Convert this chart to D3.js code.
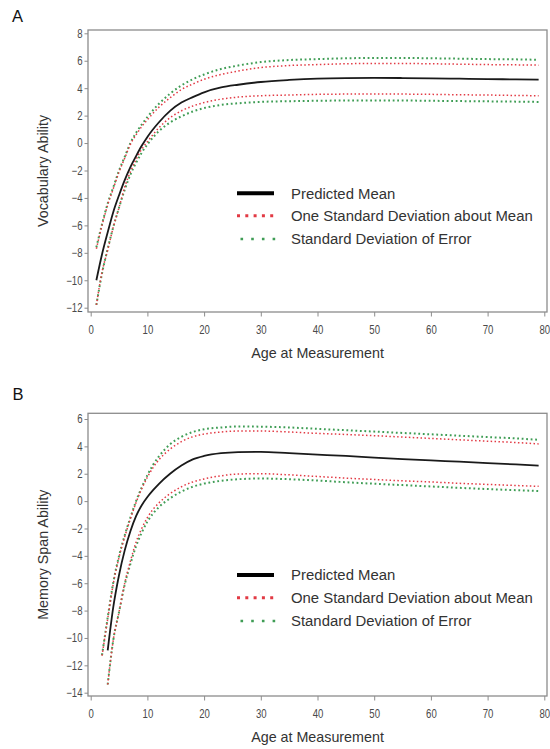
<!DOCTYPE html>
<html>
<head>
<meta charset="utf-8">
<script src="https://cdnjs.cloudflare.com/ajax/libs/d3/7.8.5/d3.min.js"></script>
<style>
  html, body { margin: 0; padding: 0; background: #fff; }
  svg { display: block; }
  text { font-family: "Liberation Sans", Arial, Helvetica, sans-serif; }
</style>
</head>
<body>
<svg id="chart" width="550" height="749"></svg>
<script>
// ---------------- DATA ----------------
const xTicks = [0, 10, 20, 30, 40, 50, 60, 70, 80];
const yTicksA = [8, 6, 4, 2, 0, -2, -4, -6, -8, -10, -12];
const yTicksB = [6, 4, 2, 0, -2, -4, -6, -8, -10, -12, -14];
const legendLabels = ["Predicted Mean", "One Standard Deviation about Mean", "Standard Deviation of Error"];

// Panel A: Vocabulary Ability
const agesA = [1,2,3,4,5,6,7,8,9,10,12,14,16,18,20,23,26,30,35,40,45,50,55,60,65,70,75,79];
const meanA = [-10.0,-8.1,-6.5,-5.0,-3.8,-2.7,-1.75,-0.95,-0.2,0.45,1.5,2.35,2.95,3.35,3.7,4.05,4.25,4.45,4.6,4.7,4.74,4.75,4.74,4.72,4.69,4.66,4.64,4.62];
const sdUpA = [-7.7,-6.0,-4.5,-3.3,-2.1,-1.1,-0.1,0.6,1.2,1.7,2.6,3.3,3.9,4.3,4.65,5.0,5.25,5.5,5.65,5.72,5.78,5.8,5.8,5.78,5.75,5.72,5.7,5.68];
const sdLoA = [-11.8,-9.4,-7.8,-6.1,-4.7,-3.2,-2.1,-1.2,-0.45,0.1,1.1,1.85,2.35,2.7,2.95,3.2,3.35,3.45,3.5,3.55,3.57,3.58,3.57,3.55,3.52,3.5,3.47,3.45];
const errUpA = [-7.6,-5.9,-4.4,-3.2,-2.0,-1.0,0.0,0.75,1.35,1.9,2.85,3.6,4.2,4.65,5.0,5.4,5.65,5.9,6.05,6.12,6.18,6.2,6.2,6.18,6.15,6.12,6.1,6.07];
const errLoA = [-11.8,-9.5,-7.7,-6.1,-4.7,-3.4,-2.3,-1.45,-0.7,-0.1,0.85,1.5,1.95,2.3,2.55,2.78,2.9,3.0,3.05,3.08,3.1,3.1,3.1,3.08,3.06,3.04,3.02,3.0];

// Panel B: Memory Span Ability
const agesB = [3,4,5,6,7,8,9,10,11,12,14,16,18,20,23,26,30,35,40,45,50,55,60,65,70,75,79];
const meanB = [-10.9,-7.7,-5.4,-3.6,-2.2,-1.1,-0.3,0.3,0.8,1.25,2.0,2.6,3.05,3.3,3.5,3.58,3.6,3.5,3.4,3.3,3.18,3.07,2.97,2.88,2.78,2.68,2.6];
const agesBUp = [2,3,4,5,6,7,8,9,10,11,12,14,16,18,20,23,26,30,35,40,45,50,55,60,65,70,75,79];
const sdUpB = [-11.3,-8.6,-6.0,-4.1,-2.6,-1.3,-0.1,0.9,1.75,2.45,3.0,3.8,4.35,4.7,4.9,5.05,5.12,5.12,5.05,4.95,4.87,4.78,4.68,4.58,4.48,4.38,4.28,4.18];
const errUpB = [-11.25,-8.5,-5.9,-4.0,-2.5,-1.2,0.0,1.0,1.9,2.65,3.25,4.15,4.7,5.05,5.25,5.38,5.45,5.44,5.38,5.28,5.18,5.08,4.98,4.88,4.78,4.68,4.58,4.48];
const sdLoB = [-13.4,-10.1,-8.1,-6.0,-4.4,-3.0,-2.0,-1.2,-0.6,-0.15,0.55,1.05,1.4,1.62,1.85,1.98,2.0,1.92,1.8,1.68,1.58,1.48,1.4,1.3,1.22,1.14,1.08];
const errLoB = [-13.4,-10.1,-8.1,-6.1,-4.6,-3.3,-2.3,-1.5,-0.9,-0.45,0.2,0.7,1.05,1.28,1.48,1.6,1.65,1.6,1.5,1.38,1.27,1.17,1.07,0.97,0.88,0.8,0.74];

// ---------------- DRAWING ----------------
const svg = d3.select("#chart");
const RED = "#e23a44";
const GREEN = "#3f9d55";
const FRAME = "#8c8c8c";

function panel(cfg) {
  const g = svg.append("g");
  const x = d3.scaleLinear().domain([0, 80]).range([90.7, 544.3]);
  const y = d3.scaleLinear().domain(cfg.yDomain).range(cfg.yRange);

  // frame
  g.append("rect")
    .attr("x", cfg.frame.left).attr("y", cfg.frame.top)
    .attr("width", cfg.frame.right - cfg.frame.left)
    .attr("height", cfg.frame.bottom - cfg.frame.top)
    .attr("fill", "none").attr("stroke", FRAME).attr("stroke-width", 1.3);

  // y axis
  const ya = g.append("g")
    .attr("transform", `translate(${cfg.frame.left},0)`)
    .call(d3.axisLeft(y).tickValues(cfg.yTicks).tickSize(3.5).tickPadding(2));
  ya.select(".domain").remove();
  ya.selectAll(".tick line").attr("stroke", FRAME).attr("stroke-width", 1);
  ya.selectAll(".tick text")
    .attr("fill", "#4a4a4a").attr("font-size", 12)
    .attr("x", -5.5 / 0.8)
    .attr("transform", "scale(0.8,1)");

  // x axis
  const xa = g.append("g")
    .attr("transform", `translate(0,${cfg.frame.bottom})`)
    .call(d3.axisBottom(x).tickValues(xTicks).tickSize(4.5).tickPadding(9));
  xa.select(".domain").remove();
  xa.selectAll(".tick line").attr("stroke", FRAME).attr("stroke-width", 1);
  xa.selectAll(".tick text")
    .attr("fill", "#4a4a4a").attr("font-size", 12)
    .attr("transform", "scale(0.8,1)");

  // axis titles
  g.append("text")
    .attr("x", (cfg.frame.left + cfg.frame.right) / 2)
    .attr("y", cfg.xTitleY)
    .attr("text-anchor", "middle").attr("font-size", 14.3).attr("fill", "#333")
    .text("Age at Measurement");
  g.append("text")
    .attr("transform", `translate(${cfg.yTitleX},${(cfg.frame.top + cfg.frame.bottom) / 2}) rotate(-90)`)
    .attr("text-anchor", "middle").attr("font-size", 14.3).attr("fill", "#333")
    .text(cfg.yTitle);

  // panel letter
  g.append("text")
    .attr("x", cfg.letterX).attr("y", cfg.letterY)
    .attr("font-size", 16.5).attr("fill", "#111")
    .text(cfg.letter);

  const line = d3.line()
    .x(d => x(d[0])).y(d => y(d[1]))
    .curve(d3.curveMonotoneX);

  const zip = (a, b) => a.map((v, i) => [v, b[i]]);

  // error lines (green)
  cfg.errSeries.forEach(s => {
    g.append("path").attr("d", line(zip(s.ages, s.vals)))
      .attr("fill", "none").attr("stroke", GREEN).attr("stroke-width", 2)
      .attr("stroke-dasharray", "1.8 2.7");
  });
  // SD lines (red)
  cfg.sdSeries.forEach(s => {
    g.append("path").attr("d", line(zip(s.ages, s.vals)))
      .attr("fill", "none").attr("stroke", RED).attr("stroke-width", 1.5)
      .attr("stroke-dasharray", "1.5 2.4");
  });
  // mean
  g.append("path").attr("d", line(zip(cfg.meanAges, cfg.mean)))
    .attr("fill", "none").attr("stroke", "#1a1a1a").attr("stroke-width", 1.8);

  // legend
  const lx0 = 237, lx1 = 274, tx = 291;
  const ly = cfg.legendY;
  g.append("line").attr("x1", lx0).attr("x2", lx1).attr("y1", ly[0]).attr("y2", ly[0])
    .attr("stroke", "#000").attr("stroke-width", 4);
  g.append("line").attr("x1", lx0).attr("x2", lx1 + 2).attr("y1", ly[1]).attr("y2", ly[1])
    .attr("stroke", RED).attr("stroke-width", 3).attr("stroke-dasharray", "3 5.3");
  g.append("line").attr("x1", lx0 + 3.5).attr("x2", lx1 + 2).attr("y1", ly[2]).attr("y2", ly[2])
    .attr("stroke", GREEN).attr("stroke-width", 2.6).attr("stroke-dasharray", "2.6 8.1");
  legendLabels.forEach((t, i) => {
    g.append("text").attr("x", tx).attr("y", ly[i]).attr("dy", "0.36em")
      .attr("font-size", 14.9).attr("fill", "#333").text(t);
  });
}

panel({
  letter: "A", letterX: 12, letterY: 21.5,
  frame: { left: 88, right: 547, top: 30, bottom: 312 },
  yDomain: [-12, 8], yRange: [307.7, 33.3], yTicks: yTicksA,
  xTitleY: 357.5, yTitleX: 47.5, yTitle: "Vocabulary Ability",
  meanAges: agesA, mean: meanA,
  sdSeries: [{ ages: agesA, vals: sdUpA }, { ages: agesA, vals: sdLoA }],
  errSeries: [{ ages: agesA, vals: errUpA }, { ages: agesA, vals: errLoA }],
  legendY: [193.3, 215.7, 239]
});

panel({
  letter: "B", letterX: 12.5, letterY: 399.5,
  frame: { left: 88, right: 547, top: 413.3, bottom: 696 },
  yDomain: [-14, 6], yRange: [692.7, 419], yTicks: yTicksB,
  xTitleY: 741.5, yTitleX: 48, yTitle: "Memory Span Ability",
  meanAges: agesB, mean: meanB,
  sdSeries: [{ ages: agesBUp, vals: sdUpB }, { ages: agesB, vals: sdLoB }],
  errSeries: [{ ages: agesBUp, vals: errUpB }, { ages: agesB, vals: errLoB }],
  legendY: [575, 597.7, 621]
});
</script>
</body>
</html>
